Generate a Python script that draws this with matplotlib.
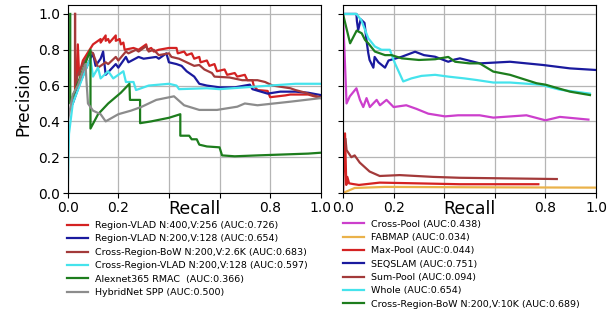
import matplotlib
matplotlib.use("Agg")
import matplotlib.pyplot as plt

# ---------------- Left panel data ----------------
rvlad400_r = [0.029, 0.029, 0.035, 0.04, 0.045, 0.06, 0.10, 0.13, 0.13, 0.15, 0.15, 0.16, 0.165, 0.19, 0.19, 0.205,
              0.21, 0.22, 0.225, 0.26, 0.28, 0.31, 0.315, 0.33, 0.34, 0.36, 0.40, 0.43, 0.435, 0.46, 0.47, 0.49,
              0.50, 0.52, 0.525, 0.55, 0.56, 0.58, 0.59, 0.62, 0.63, 0.66, 0.67, 0.70, 0.71, 0.73, 0.735, 0.75,
              0.79, 0.80, 0.86, 0.88, 0.95, 1.0]
rvlad400_p = [1.0, 0.56, 0.62, 0.83, 0.66, 0.74, 0.83, 0.86, 0.84, 0.88, 0.85, 0.86, 0.84, 0.88, 0.85, 0.86,
              0.83, 0.84, 0.80, 0.81, 0.80, 0.83, 0.80, 0.81, 0.79, 0.80, 0.81, 0.81, 0.78, 0.79, 0.77, 0.78,
              0.75, 0.76, 0.73, 0.74, 0.71, 0.72, 0.68, 0.69, 0.66, 0.67, 0.65, 0.66, 0.63, 0.63, 0.60, 0.575,
              0.57, 0.535, 0.545, 0.55, 0.55, 0.53]

rvlad200_r = [0.02, 0.05, 0.08, 0.10, 0.11, 0.13, 0.14, 0.15, 0.19, 0.20, 0.23, 0.24, 0.28, 0.30, 0.35, 0.36,
              0.39, 0.40, 0.43, 0.45, 0.47, 0.50, 0.52, 0.55, 0.60, 0.66, 0.72, 0.73, 0.79, 0.84, 0.90, 0.95, 1.0]
rvlad200_p = [0.50, 0.62, 0.72, 0.78, 0.71, 0.75, 0.79, 0.66, 0.72, 0.70, 0.76, 0.73, 0.76, 0.75, 0.76, 0.75,
              0.78, 0.73, 0.72, 0.71, 0.68, 0.65, 0.61, 0.60, 0.59, 0.59, 0.605, 0.58, 0.555, 0.566, 0.566, 0.56,
              0.547]

crbow_r = [0.029, 0.029, 0.04, 0.06, 0.09, 0.10, 0.12, 0.15, 0.16, 0.19, 0.20, 0.23, 0.24, 0.27, 0.28, 0.31,
           0.32, 0.34, 0.36, 0.40, 0.41, 0.44, 0.47, 0.50, 0.52, 0.54, 0.57, 0.58, 0.64, 0.69, 0.75, 0.78, 0.81,
           0.88, 0.90, 0.94, 0.97, 1.0]
crbow_p = [1.0, 0.60, 0.66, 0.72, 0.79, 0.78, 0.70, 0.73, 0.72, 0.76, 0.74, 0.79, 0.78, 0.80, 0.79, 0.82,
           0.79, 0.80, 0.77, 0.78, 0.76, 0.75, 0.73, 0.71, 0.715, 0.69, 0.67, 0.65, 0.645, 0.63, 0.63, 0.62, 0.60,
           0.585, 0.575, 0.56, 0.545, 0.535]

crvlad_r = [0.0, 0.005, 0.02, 0.06, 0.08, 0.09, 0.10, 0.12, 0.13, 0.16, 0.18, 0.22, 0.23, 0.26, 0.27, 0.32, 0.40,
            0.43, 0.44, 0.55, 0.60, 0.70, 0.80, 0.90, 1.0]
crvlad_p = [0.0, 0.33, 0.50, 0.65, 0.72, 0.75, 0.65, 0.70, 0.64, 0.68, 0.64, 0.68, 0.62, 0.62, 0.575, 0.60, 0.61,
            0.60, 0.58, 0.585, 0.58, 0.59, 0.60, 0.61, 0.61]

alex_r = [0.01, 0.01, 0.09, 0.09, 0.12, 0.16, 0.21, 0.244, 0.246, 0.286, 0.286, 0.33, 0.40, 0.445, 0.445, 0.48,
          0.49, 0.51, 0.52, 0.55, 0.60, 0.61, 0.66, 0.75, 0.85, 0.95, 1.0]
alex_p = [1.0, 0.50, 0.80, 0.36, 0.44, 0.50, 0.56, 0.61, 0.52, 0.52, 0.39, 0.40, 0.42, 0.44, 0.32, 0.32,
          0.30, 0.30, 0.27, 0.26, 0.255, 0.21, 0.205, 0.21, 0.215, 0.22, 0.225]

hyb_r = [0.0, 0.0, 0.02, 0.04, 0.07, 0.08, 0.10, 0.13, 0.15, 0.20, 0.25, 0.29, 0.35, 0.42, 0.46, 0.52, 0.59,
         0.67, 0.70, 0.75, 0.88, 1.0]
hyb_p = [0.33, 0.40, 0.55, 0.60, 0.72, 0.50, 0.46, 0.44, 0.40, 0.44, 0.46, 0.48, 0.52, 0.54, 0.49, 0.464, 0.464,
         0.482, 0.50, 0.49, 0.51, 0.53]

# ---------------- Right panel data ----------------
cpool_r = [0.0, 0.014, 0.027, 0.053, 0.067, 0.08, 0.093, 0.106, 0.133, 0.146, 0.172, 0.20, 0.25, 0.29, 0.337,
           0.403, 0.455, 0.54, 0.594, 0.725, 0.80, 0.857, 0.97]
cpool_p = [1.0, 0.50, 0.54, 0.585, 0.52, 0.48, 0.53, 0.48, 0.52, 0.49, 0.52, 0.48, 0.49, 0.47, 0.443,
           0.428, 0.434, 0.434, 0.421, 0.434, 0.406, 0.425, 0.41]

fab_r = [0.0, 0.046, 0.166, 0.50, 1.0]
fab_p = [0.0, 0.028, 0.034, 0.032, 0.03]

maxp_r = [0.0, 0.008, 0.013, 0.017, 0.024, 0.04, 0.063, 0.145, 0.29, 0.462, 0.772]
maxp_p = [0.0, 0.333, 0.045, 0.09, 0.054, 0.05, 0.045, 0.058, 0.054, 0.049, 0.049]

seq_r = [0.0, 0.053, 0.055, 0.06, 0.07, 0.085, 0.094, 0.10, 0.105, 0.12, 0.125, 0.14, 0.166, 0.18, 0.232, 0.285,
         0.32, 0.364, 0.416, 0.44, 0.462, 0.541, 0.66, 0.79, 0.897, 1.0]
seq_p = [1.0, 1.0, 0.96, 0.91, 0.97, 0.95, 0.84, 0.78, 0.743, 0.70, 0.76, 0.73, 0.70, 0.74, 0.761, 0.789,
         0.77, 0.761, 0.733, 0.745, 0.752, 0.724, 0.733, 0.715, 0.696, 0.687]

sump_r = [0.01, 0.014, 0.033, 0.046, 0.066, 0.105, 0.145, 0.224, 0.356, 0.462, 0.845]
sump_p = [0.30, 0.24, 0.20, 0.21, 0.17, 0.12, 0.095, 0.10, 0.09, 0.085, 0.078]

whole_r = [0.0, 0.053, 0.072, 0.10, 0.126, 0.152, 0.185, 0.205, 0.238, 0.27, 0.31, 0.364, 0.416, 0.48, 0.528,
           0.594, 0.66, 0.779, 0.857, 0.976]
whole_p = [1.0, 1.0, 0.966, 0.864, 0.818, 0.80, 0.80, 0.725, 0.623, 0.64, 0.654, 0.66, 0.65, 0.64, 0.631,
           0.617, 0.617, 0.605, 0.577, 0.555]

crbow10k_r = [0.0, 0.028, 0.054, 0.074, 0.087, 0.10, 0.126, 0.166, 0.192, 0.232, 0.30, 0.364, 0.416, 0.443,
              0.50, 0.54, 0.594, 0.66, 0.765, 0.80, 0.897, 0.976]
crbow10k_p = [1.0, 0.836, 0.907, 0.892, 0.855, 0.836, 0.79, 0.77, 0.77, 0.752, 0.743, 0.747, 0.76, 0.733,
              0.724, 0.724, 0.678, 0.66, 0.613, 0.605, 0.566, 0.547]

left_labels = ["Region-VLAD N:400,V:256 (AUC:0.726)",
               "Region-VLAD N:200,V:128 (AUC:0.654)",
               "Cross-Region-BoW N:200,V:2.6K (AUC:0.683)",
               "Cross-Region-VLAD N:200,V:128 (AUC:0.597)",
               "Alexnet365 RMAC  (AUC:0.366)",
               "HybridNet SPP (AUC:0.500)"]
right_labels = ["Cross-Pool (AUC:0.438)",
                "FABMAP (AUC:0.034)",
                "Max-Pool (AUC:0.044)",
                "SEQSLAM (AUC:0.751)",
                "Sum-Pool (AUC:0.094)",
                "Whole (AUC:0.654)",
                "Cross-Region-BoW N:200,V:10K (AUC:0.689)"]

xticks = [0.0, 0.2, 0.4, 0.6, 0.8, 1.0]
xticklabels = ["0.0", "0.2", "", "", "0.8", "1.0"]
yticks = [0.0, 0.2, 0.4, 0.6, 0.8, 1.0]
yticklabels = ["0.0", "0.2", "0.4", "0.6", "0.8", "1.0"]

RED = "#d42222"
BLUE = "#1a1a9e"
BROWN = "#a33a3a"
CYAN = "#45e3ec"
GREEN = "#1d7d1d"
GRAY = "#8c8c8c"
MAGENTA = "#cc3fcc"
ORANGE = "#eab24a"

fig = plt.figure(figsize=(6.10, 3.12), dpi=100)
axL = fig.add_axes([0.111, 0.3814, 0.4148, 0.6026])
axR = fig.add_axes([0.5623, 0.3814, 0.4148, 0.6026])

lw = 1.6
left_series = [(rvlad400_r, rvlad400_p, RED), (rvlad200_r, rvlad200_p, BLUE),
               (crbow_r, crbow_p, BROWN), (crvlad_r, crvlad_p, CYAN),
               (alex_r, alex_p, GREEN), (hyb_r, hyb_p, GRAY)]
left_handles = []
for (r, p, c), lab in zip(left_series, left_labels):
    h, = axL.plot(r, p, color=c, lw=lw, label=lab)
    left_handles.append(h)

right_series = [(cpool_r, cpool_p, MAGENTA), (fab_r, fab_p, ORANGE), (maxp_r, maxp_p, RED),
                (seq_r, seq_p, BLUE), (sump_r, sump_p, BROWN), (whole_r, whole_p, CYAN),
                (crbow10k_r, crbow10k_p, GREEN)]
right_handles = []
for (r, p, c), lab in zip(right_series, right_labels):
    h, = axR.plot(r, p, color=c, lw=lw, label=lab)
    right_handles.append(h)

for ax in (axL, axR):
    ax.set_xlim(0, 1.0)
    ax.set_ylim(0, 1.05)
    ax.set_xticks(xticks)
    ax.set_xticklabels(xticklabels, fontsize=10)
    ax.set_yticks(yticks)
    ax.grid(True, color="#b5b5b5", lw=0.9)
    ax.set_axisbelow(True)
    ax.set_xlabel("Recall", fontsize=12.5)
    ax.xaxis.set_label_coords(0.5, -0.035)
    ax.tick_params(length=3.5, width=0.8, pad=2)

axL.set_yticklabels(yticklabels, fontsize=10)
axR.set_yticklabels([])
axL.set_ylabel("Precision", fontsize=12, labelpad=4)

fig.legend(handles=left_handles, loc="upper left", bbox_to_anchor=(67 / 610, 1 - 221 / 312),
           frameon=False, fontsize=6.8, borderpad=0, borderaxespad=0, handlelength=2.2,
           handletextpad=0.75, labelspacing=0.47)
fig.legend(handles=right_handles, loc="upper left", bbox_to_anchor=(343 / 610, 1 - 219.5 / 312),
           frameon=False, fontsize=6.8, borderpad=0, borderaxespad=0, handlelength=2.2,
           handletextpad=0.75, labelspacing=0.46)

fig.savefig("out.png", dpi=100)
